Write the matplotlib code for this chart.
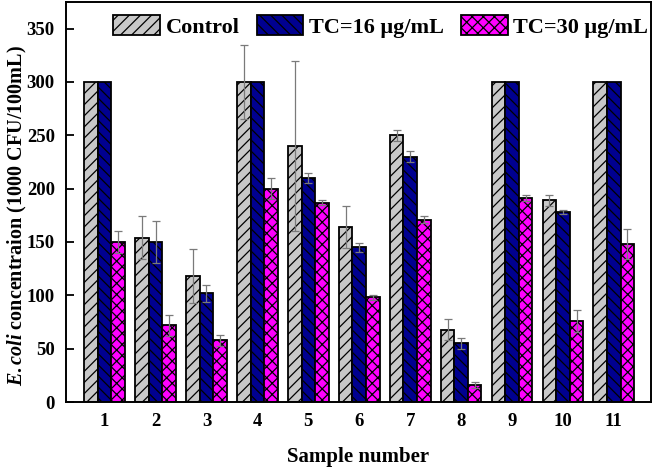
import numpy as np
import matplotlib
matplotlib.use("Agg")
import matplotlib.pyplot as plt

plt.rcParams["font.family"] = ["Liberation Serif", "DejaVu Serif"]
plt.rcParams["font.weight"] = "bold"
plt.rcParams["mathtext.fontset"] = "custom"
plt.rcParams["mathtext.it"] = "Liberation Serif:italic:bold"
plt.rcParams["mathtext.rm"] = "Liberation Serif:bold"
plt.rcParams["hatch.linewidth"] = 0.9

samples = [str(i) for i in range(1, 12)]
control = [300, 154, 118, 300, 240, 164, 250, 68, 300, 189, 300]
control_err = [0, 20, 25, 35, 80, 20, 5, 10, 0, 5, 0]
tc16 = [300, 150, 102, 300, 210, 145, 230, 55, 300, 178, 300]
tc16_err = [0, 20, 8, 0, 5, 4, 5, 5, 0, 2, 0]
tc30 = [150, 72, 58, 200, 187, 98, 171, 16, 191, 76, 148]
tc30_err = [10, 10, 5, 10, 2, 2, 3, 3, 3, 10, 14]

series = [
    ("Control", control, control_err, "#c8c8c8", "///"),
    ("TC=16 \u03bcg/mL", tc16, tc16_err, "#000090", "\\\\\\"),
    ("TC=30 \u03bcg/mL", tc30, tc30_err, "#ff00ff", "xxx"),
]

fig = plt.figure(figsize=(6.53, 4.67), dpi=100)
ax = fig.add_axes([0.101, 0.139, 0.896, 0.857])

x = np.arange(1, len(samples) + 1)
width = 0.267
for i, (label, vals, errs, color, hatch) in enumerate(series):
    pos = x + (i - 1) * width
    ax.bar(pos, vals, width, color=color, edgecolor="black", linewidth=1.3,
           hatch=hatch, label=label, zorder=2)
    errs = np.array(errs, dtype=float)
    mask = errs > 0
    ax.errorbar(pos[mask], np.array(vals)[mask], yerr=errs[mask], fmt="none",
                ecolor="#7a7a7a", elinewidth=0.9, capsize=3, capthick=0.9,
                zorder=3)

ax.set_xlim(0.24, 11.73)
ax.set_ylim(0, 375)
ax.set_xticks(x)
ax.set_xticklabels(samples)
ax.set_yticks(np.arange(0, 351, 50))
ax.tick_params(axis="y", direction="in", length=6, width=1.3, labelsize=13.5,
               pad=8)
ax.tick_params(axis="x", length=0, labelsize=13.5, pad=8)
for s in ax.spines.values():
    s.set_linewidth(1.4)

ax.set_xlabel("Sample number", fontsize=15, fontweight="bold", labelpad=12)
ax.set_ylabel(r"$\it{E.coli}$ concentraion (1000 CFU/100mL)", fontsize=14.5,
              fontweight="bold")
ax.yaxis.set_label_coords(-0.064, 0.465)

ax.legend(loc="upper center", bbox_to_anchor=(0.538, 1.0), ncol=3,
          frameon=False, handlelength=2.1, handleheight=1.0,
          columnspacing=0.77, handletextpad=0.25, borderaxespad=0.2,
          prop={"weight": "bold", "size": 16})

fig.savefig("out.png", dpi=100)
